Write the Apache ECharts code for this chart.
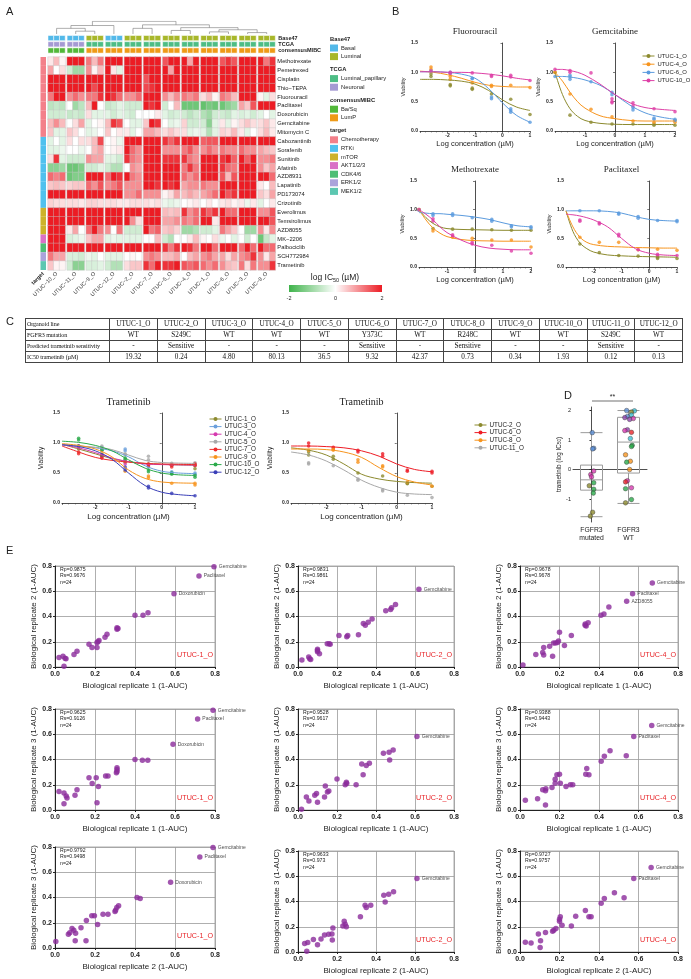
<!DOCTYPE html>
<html>
<head>
<meta charset="utf-8">
<title>UTUC organoid drug screen</title>
<script src="https://cdn.jsdelivr.net/npm/echarts@6.0.0/dist/echarts.min.js"></script>
<style>
  html, body { margin: 0; padding: 0; background: #fff; }
  #main { position: absolute; left: 0; top: 0; width: 691px; height: 979px; }
  #tbl { position: absolute; left: 25px; top: 318px; width: 658px; table-layout: fixed; border-collapse: collapse;
         font-family: 'Liberation Serif', 'Times New Roman', serif; font-size: 7.2px; color: #111; }
  #tbl td { border: 0.6px solid #444; height: 10px; padding: 0 1px; text-align: center; white-space: nowrap; overflow: hidden; line-height: 10px; }
  #tbl td:first-child { text-align: left; font-size: 6.1px; letter-spacing: -0.1px; }
</style>
</head>
<body>
<div id="main"></div>
<table id="tbl"><colgroup><col style="width:84px"></colgroup><tbody></tbody></table>
<script>
var FONT = 'Liberation Sans, Arial, sans-serif';
var SERIF = 'Liberation Serif, Times New Roman, serif';

// ---------- A: heatmap data ----------
var groups = ['UTUC−10_O','UTUC−11_O','UTUC−9_O','UTUC−12_O','UTUC−2_O','UTUC−7_O','UTUC−5_O','UTUC−4_O','UTUC−1_O','UTUC−6_O','UTUC−3_O','UTUC−8_O'];
var drugs = ['Methotrexate','Pemetrexed','Cisplatin','Thio−TEPA','Fluorouracil','Paclitaxel','Doxorubicin','Gemcitabine','Mitomycin C',
  'Cabozantinib','Sorafenib','Sunitinib','Afatinib','AZD8931','Lapatinib','PD173074','Crizotinib','Everolimus','Temsirolimus','AZD8055',
  'MK−2206','Palbociclib','SCH772984','Trametinib'];
var drugTarget = [0,0,0,0,0,0,0,0,0, 1,1,1,1,1,1,1,1, 2,2,2, 3, 4, 5, 6];
var targetNames = ['Chemotherapy','RTKi','mTOR','AKT1/2/3','CDK4/6','ERK1/2','MEK1/2'];
var targetColors = ['#F3808A','#50C1EE','#CDB22B','#D971C6','#4FBE75','#ABA3DB','#5CC7B1'];
var base47 = [0,0,1,0,1,1,1,1,1,1,1,1];   // 0 Basal, 1 Luminal
var tcga = [1,1,0,0,0,0,0,0,0,0,0,0];     // 0 Luminal_papillary, 1 Neuronal
var mibc = [0,0,1,1,1,1,1,1,1,1,1,1];     // 0 Ba/Sq, 1 LumP
var base47Names = ['Basal','Luminal'], base47Colors = ['#53B9E9','#A8B72A'];
var tcgaNames = ['Luminal_papillary','Neuronal'], tcgaColors = ['#4DBD85','#A59AD3'];
var mibcNames = ['Ba/Sq','LumP'], mibcColors = ['#52B83A','#EE9A17'];

var heat = [
  [0.2,0.6,0.1, 2,2,2, 1.2,0.6,1.2, 2,2,2, 2,2,2, 2,2,2, 1.5,2,2, 2,0.8,2, 2,2,2, 1.5,1.8,1.5, 2,2,2, 2,1.2,1.8],
  [0.8,0,0.3, -0.5,-1,-1, 1,0.1,0.6, 2,0.2,-0.3, 2,2,2, 2,2,2, 2,0.8,2, 2,2,2, 2,2,2, 2,2,2, 2,2,2, 2,2,2],
  [2,2,2, 2,2,2, 2,2,2, 2,2,2, 2,2,2, 1.5,2,2, 2,2,2, 2,2,2, 2,2,2, 2,2,2, 2,2,2, 2,2,2],
  [2,2,2, 2,2,2, 2,1.6,2, 2,2,2, 2,2,2, 1.6,1.8,2, 2,2,2, 2,2,2, 2,2,2, 2,2,2, 2,2,2, 2,2,2],
  [1.2,2,2, 1,1.3,1, 1.2,1.2,1.8, 2,1.8,1.3, 1,1,1.3, 2,2,2, 1,0.6,1, 1.2,1,1.2, 0.3,0.6,0.1, 1.2,1,0.6, 2,2,2, 0.1,-0.3,0.3],
  [-0.7,-0.6,-0.7, 0,-1,-0.7, 0.6,2,0, -0.6,-0.5,-0.3, -0.5,-0.5,-0.5, 2,1.8,2, -0.5,0,0.6, -1.5,-1.5,-1.5, -1.6,-1.4,-1.5, -1.5,-1.2,-1, 0.8,0.5,1.5, 2,2,2],
  [-0.5,-0.5,-0.5, -0.6,-0.5,-0.6, 0.3,-0.3,-0.3, -0.3,-0.5,-0.3, -0.4,-0.5,0, 0,0,0.2, -0.3,-0.5,-0.4, -0.5,-0.7,-0.5, -0.8,-1,-0.5, -0.5,-0.6,-0.3, -0.4,-0.3,-0.5, -0.3,0,-0.3],
  [0.6,1,0.6, 0,0.3,0.8, -0.3,0,0.1, 0.6,1.8,1.5, 0,-0.3,-0.3, 0.5,2,1.8, 0,-0.3,-0.2, 0.4,-0.5,-0.5, -0.5,-1.2,-0.3, 0.2,-0.3,0.1, 0.3,0.5,0.3, 0.3,0.5,0.2],
  [0.5,-0.3,-0.3, 0.5,0.3,0, -0.3,-0.2,0, 0.5,0,0.2, 0.2,-0.3,0, 0.8,0.8,0.6, 0.3,0.5,0.3, 0.3,-0.3,-0.2, -0.3,-0.8,-0.3, 0.4,0.3,0.6, 0.2,-0.3,0, 0.3,0.6,0.2],
  [-0.3,0,-0.3, 0.3,0,0.3, 0.3,0.6,1.6, 0,0.1,-0.2, 2,2,2, 2,2,2, 1.8,1.4,1.8, 2,2,2, 1.4,1.5,1.5, 2,2,2, 2,2,2, 2,2,2],
  [-0.3,-0.3,-0.2, 0,0,-0.2, 0,0.6,0.8, 0,0.1,0.2, 2,1.3,1, 2,2,2, 1,1,1, 1.2,1.5,1, 1,1.3,1, 1.2,1,1, 1.3,1,1, 0.8,0.6,0.5],
  [0.3,1.8,-0.3, -0.5,-0.5,-0.5, 1,0.8,0.8, -0.3,-0.3,-0.5, 1.8,1.2,1, 2,2,2, 1.8,1.8,1.8, 1.8,1.2,1, 2,2,2, 1.8,2,1.4, 2,1.4,2, 1,1,1.2],
  [-1.2,-1.2,-1, -1.5,-1.5,-1.3, -0.5,-0.5,-0.3, -0.5,-0.8,-0.8, 0,1,0.8, 2,2,2, 2,2,2, 1.2,1.8,1.2, 2,2,2, 1.8,1.3,1.2, 2,2,2, 1,0.5,0.8],
  [1.3,1.1,1.3, -1.5,-1.3,-1.3, 2,2,2, 1.3,2,1.8, 2,1.2,1, 2,2,2, 2,2,2, 1.3,1,1.3, 2,2,2, 1.5,0.6,1.5, 2,2,2, 2,2,1.3],
  [0.5,0.6,0.5, 0.4,0.5,0.5, 1.3,1,1.5, 1,1.2,1.5, 1,1,1, 2,2,1.8, 2,1.8,2, 0.8,1,1, 1.2,1,1, 2,2,2, 2,2,2, 0.2,0,0.6],
  [2,2,2, 2,2,2, 2,2,2, 2,2,2, 1,1,1.3, 1,1,1, 0.1,0.3,0.8, 0.6,0.8,0.6, 0.8,1,1.3, 2,1.5,1.8, 2,2,2, 0.5,0.3,0.8],
  [0.4,0.3,0.3, 0.3,0.3,0.2, 0.4,0.4,0.3, 0.3,0.3,0.2, 0.2,0.3,0.3, 0.3,0.2,0.3, -0.2,-0.3,-0.2, 0,0.1,0.2, 0,0.2,0, 0.2,0.3,0.1, 0.2,-0.2,0.2, -0.3,0,0.2],
  [2,2,2, 2,2,2, 2,2,2, 2,2,2, 2,2,2, 2,2,2, 0.6,0.5,0.6, 1.8,1,1.3, 1.8,1.4,1.8, 2,1.3,1.3, 2,2,2, 1,1,1.5],
  [2,2,2, 2,2,2, 2,2,2, 2,2,2, 2,1,0.3, 2,2,2, 0.8,0.8,1, 1.2,1,1.3, 2,2,0.2, 2,2,2, 2,2,2, 2,2,1.5],
  [2,2,2, 0.2,0.8,0, 1.3,2,1.2, 1,0,1.2, -0.5,-0.5,-0.5, 2,1.2,1.4, 0.5,0.6,0.4, -1,-1,-0.8, -0.5,-0.5,-0.3, 1.2,0.8,0.5, 0,-1,-1, 1,0.2,1],
  [2,2,2, -0.4,-0.3,-0.2, 0.5,0.8,0.8, -0.3,-0.2,-0.3, -0.3,-0.3,-0.3, 0,0,0.6, -0.5,-0.8,0, 0,0.2,0.6, 0.1,0,0.3, -0.2,0,-0.3, 0,-0.5,0, -1.5,-0.6,-0.3],
  [2,2,2, 2,2,2, 2,2,2, 2,2,2, 2,2,2, 2,2,2, 1.8,1.2,1.8, 2,1.8,1.2, 2,2,1.3, 2,2,2, 1.3,2,1.3, 2,1.3,1.3],
  [1.2,0.8,0.8, -0.4,-0.4,-0.5, -0.2,-0.3,0, -0.3,-0.3,-0.3, 0,0.1,0, 1,1.2,1, 0.6,0.6,0.8, 0,0.6,0.8, 1,1.2,0.8, 0.8,0.3,0.8, 1,1.2,1.8, 1,0.2,0.8],
  [0.5,0.1,0.1, -0.5,-1.2,-1.2, -0.4,-0.4,-0.3, -0.5,-0.8,-0.8, 0.3,0.5,0.5, 1.8,1.3,2, 1.8,1.8,2, 1.5,1.3,1.5, 1.3,1,1.3, 1,0.6,0.5, 1.2,0.3,1.2, 1,1,1.8]
];
// dendrogram links: [xLeft, hLeft, xRight, hRight, hJoin] in group units
var dendro = [
  [1,0, 2,0, 2], [0,0, 1.5,2, 4], [0.75,4, 3,0, 6],
  [4,0, 5,0, 4], [6,0, 7,0, 2.5], [8,0, 9,0, 1.5], [10,0, 11,0, 1],
  [8.5,1.5, 10.5,1, 3], [6.5,2.5, 9.5,3, 4.5], [4.5,4, 8,4.5, 6.5], [1.875,6, 6.25,6.5, 9]
];

// ---------- B: dose response ----------
var bNames = ['UTUC-1_O','UTUC-4_O','UTUC-6_O','UTUC-10_O'];
var bColors = ['#8C8A2E','#F7941D','#5B9BDE','#DE3FA6'];
var fluoDoses = [-2.6,-1.9,-1.1,-0.4,0.3,1];
var fluoFitX = [-3,-2.5,-2,-1.5,-1,-0.5,0,0.5,1];
var fluoFit = [
  [0.88,0.88,0.87,0.85,0.8,0.69,0.53,0.41,0.35],
  [1.02,1.0,0.96,0.9,0.83,0.78,0.76,0.75,0.75],
  [1.01,1.01,1.0,0.97,0.9,0.72,0.48,0.27,0.15],
  [1.01,1.01,1.0,1.0,0.99,0.97,0.94,0.9,0.87]
];
var fluoPts = [
  [[0.93,0.97],[0.77,0.79],[0.73,0.71],[0.63],[0.54],[0.28]],
  [[1.05,1.09],[0.88,0.93],[0.82],[0.76,0.78],[0.78],[0.74]],
  [[1.02],[0.98,1.0],[0.89,0.9],[0.55,0.58],[0.35,0.32,0.38],[0.15]],
  [[1.02],[1.0,0.98],[0.99],[0.95,0.93],[0.92,0.95],[0.86]]
];
var gemDoses = [-2,-1.5,-0.8,-0.1,0.6,1.3,2];
var gemFitX = [-2,-1.75,-1.5,-1.25,-1,-0.5,0,0.5,1,1.5,2];
var gemFit = [
  [1.0,0.62,0.38,0.25,0.18,0.13,0.115,0.11,0.11,0.11,0.11],
  [1.0,0.85,0.66,0.5,0.39,0.26,0.21,0.18,0.17,0.17,0.17],
  [0.93,0.93,0.92,0.9,0.87,0.78,0.62,0.44,0.31,0.24,0.2],
  [1.05,1.05,1.03,1.0,0.95,0.8,0.62,0.48,0.4,0.37,0.35]
];
var gemPts = [
  [[1.0],[0.27],[0.15],[0.12],[0.12],[0.12,0.1],[0.1]],
  [[1.0],[0.63],[0.37],[0.24],[0.17],[0.15],[0.15,0.18]],
  [[0.93],[0.92,0.95,0.88],[0.84],[0.62,0.66],[0.36,0.4],[0.2,0.22],[0.2,0.18]],
  [[1.05],[1.03,1.0],[0.99],[0.5,0.55,0.48],[0.48,0.43],[0.38],[0.33]]
];
var mtxDoses = [-2,-1.5,-0.8,-0.1,0.6,1.3,2];
var mtxFitX = [-2,-1.75,-1.5,-1.25,-1,-0.5,0,0.5,1,1.5,2];
var mtxFit = [
  [1.0,0.86,0.76,0.7,0.67,0.655,0.65,0.645,0.64,0.64,0.64],
  [1.0,0.82,0.68,0.59,0.53,0.48,0.46,0.455,0.45,0.45,0.45],
  [0.95,0.94,0.93,0.93,0.92,0.9,0.87,0.83,0.77,0.72,0.7],
  [1.0,0.92,0.82,0.7,0.6,0.47,0.38,0.33,0.31,0.3,0.3]
];
var mtxPts = [
  [[1.0],[0.67],[0.66],[0.66],[0.65],[0.64],[0.64]],
  [[1.0],[0.63],[0.52],[0.5],[0.47],[0.47],[0.35]],
  [[0.99],[0.93,0.9],[0.9,0.93],[0.86],[0.8,0.83],[0.72,0.7],[0.7,0.68]],
  [[1.0],[0.8,0.84],[0.56,0.54],[0.4,0.43],[0.38],[0.28],[0.24]]
];
var ptxDoses = [-2.5,-1.8,-1.1,-0.4,0.3,1];
var ptxFitX = [-3,-2.75,-2.5,-2.25,-2,-1.5,-1,-0.5,0,0.5,1];
var ptxFit = [
  [0.98,0.62,0.42,0.32,0.26,0.21,0.195,0.185,0.18,0.175,0.17],
  [0.98,0.7,0.52,0.43,0.39,0.36,0.35,0.34,0.335,0.33,0.33],
  [0.98,0.98,0.98,0.98,0.98,0.97,0.94,0.88,0.83,0.81,0.8],
  [0.92,0.91,0.89,0.86,0.82,0.7,0.5,0.32,0.24,0.21,0.2]
];
var ptxPts = [
  [[0.4],[0.25],[0.2],[0.19],[0.17,0.15],[0.15]],
  [[0.52],[0.43],[0.43],[0.3],[0.31],[0.29]],
  [[0.98],[0.98],[0.94,0.92],[0.88,0.85],[0.81],[0.81,0.79]],
  [[0.82,0.8],[0.77,0.75],[0.57,0.54],[0.3],[0.22,0.2],[0.2]]
];

// ---------- C: table + trametinib ----------
var tblLines = ['UTUC-1_O','UTUC-2_O','UTUC-3_O','UTUC-4_O','UTUC-5_O','UTUC-6_O','UTUC-7_O','UTUC-8_O','UTUC-9_O','UTUC-10_O','UTUC-11_O','UTUC-12_O'];
var tblMut = ['WT','S249C','WT','WT','WT','Y373C','WT','R248C','WT','WT','S249C','WT'];
var tblPred = ['-','Sensitive','-','-','-','Sensitive','-','Sensitive','-','-','Sensitive','-'];
var tblIC50 = ['19.32','0.24','4.80','80.13','36.5','9.32','42.37','0.73','0.34','1.93','0.12','0.13'];

var tramDoses = [-2.5,-1.8,-1.1,-0.4,0.3,1];
var tramFitX = [-3,-2.5,-2,-1.5,-1,-0.5,0,0.5,1];
var tramLNames = ['UTUC-1_O','UTUC-3_O','UTUC-4_O','UTUC-5_O','UTUC-7_O','UTUC-9_O','UTUC-10_O','UTUC-12_O'];
var tramLColors = ['#8C8A2E','#6CA0DC','#D63AAF','#A8A8A8','#EE2C2C','#F7941D','#2BAA4A','#3A3FB8'];
var tramLFit = [
  [0.98,0.9,0.82,0.74,0.69,0.66,0.645,0.635,0.63],
  [0.97,0.95,0.92,0.87,0.77,0.62,0.53,0.5,0.49],
  [0.97,0.92,0.84,0.75,0.69,0.65,0.64,0.635,0.63],
  [0.97,0.95,0.93,0.89,0.8,0.71,0.675,0.665,0.66],
  [0.95,0.85,0.76,0.71,0.68,0.66,0.65,0.645,0.64],
  [0.99,0.96,0.9,0.77,0.55,0.41,0.35,0.335,0.33],
  [1.03,1.01,0.96,0.87,0.72,0.58,0.5,0.47,0.46],
  [0.97,0.94,0.87,0.73,0.5,0.29,0.18,0.14,0.12]
];
var tramLPts = [
  [[0.9],[0.8],[0.68],[0.65],[0.63],[0.57,0.62]],
  [[0.95],[0.88,0.93],[0.87,0.9],[0.6,0.64],[0.5,0.52],[0.48,0.5]],
  [[0.92],[0.75,0.78],[0.65],[0.64],[0.63],[0.63]],
  [[0.95],[0.9,0.95],[0.8,0.82],[0.78,0.72],[0.66],[0.67,0.65]],
  [[0.82,0.85],[0.75,0.78],[0.7],[0.65,0.62],[0.6,0.63],[0.63,0.65]],
  [[0.95],[0.82],[0.53],[0.42,0.45],[0.33],[0.33,0.3]],
  [[1.05,1.08],[0.9,0.88],[0.75,0.73],[0.52,0.55],[0.48,0.5],[0.43,0.46]],
  [[0.95],[0.8],[0.55,0.6],[0.25,0.28],[0.16],[0.12]]
];
var tramRNames = ['UTUC-2_O','UTUC-6_O','UTUC-8_O','UTUC-11_O'];
var tramRColors = ['#8C8A2E','#EE1C25','#F7941D','#A8A8A8'];
var tramRFit = [
  [0.92,0.88,0.8,0.65,0.48,0.4,0.36,0.34,0.33],
  [0.95,0.95,0.94,0.92,0.87,0.78,0.65,0.56,0.52],
  [0.9,0.9,0.89,0.85,0.76,0.59,0.44,0.35,0.3],
  [0.85,0.8,0.7,0.55,0.38,0.26,0.18,0.15,0.14]
];
var tramRPts = [
  [[0.8,0.85],[0.73,0.78],[0.5],[0.45],[0.33,0.32],[0.28]],
  [[0.95,1.0],[0.93,0.9],[0.85,0.88],[0.78,0.82],[0.55,0.53],[0.5,0.53]],
  [[0.88],[0.9,0.88],[0.72,0.68],[0.6,0.62],[0.35],[0.28]],
  [[0.65,0.67],[0.62],[0.4,0.38],[0.2,0.22],[0.13],[0.09]]
];

// ---------- D: box plot ----------
var dCats = ['FGFR3\nmutated','FGFR3\nWT'];
var dBox = [[-1.6,-0.7,-0.35,0.15,1.25],[-1.15,-0.12,0.93,1.77,2.0]];
var dColors = ['#8C8A2E','#5B8FD6','#D63AAF','#2BAA4A','#F7941D','#3EC1D3','#E8262A','#8E44AD'];
var mutVals = [1.25,0.72,0.7,-0.05,-0.17,-0.25,-0.45,-0.55,-0.67,-0.8,-1.45,-1.58];
var mutCol = [1,1,1,2,2,2,3,0,3,3,0,0];
var mutJit = [0.02,0.06,0.03,0.06,-0.02,0,0.06,-0.06,0.06,0.05,0.03,-0.03];
var wtVals = [2.0,1.99,1.95,1.85,1.8,1.76,1.73,1.7,1.35,1.32,1.26,1.05,0.82,0.78,0.5,0.28,0.25,0.0,-0.38,-0.42,-0.62,-0.65,-1.02,-1.13];
var wtCol = [1,5,0,5,1,7,2,7,7,2,6,5,3,3,4,4,3,4,2,6,2,3,3,0];
var wtJit = [-0.05,0.16,0.08,0.08,-0.03,-0.1,0.13,0.03,-0.03,-0.1,0.08,0.05,0.1,0.08,-0.08,0.05,-0.05,0.03,-0.03,-0.08,0.08,-0.08,0.08,-0.08];

// ---------- E: replicate scatter ----------
var e1Pts = [[0.02,0.075],[0.04,0.085],[0.05,0.07],[0.055,0.065],[0.045,0.005],[0.095,0.1],[0.11,0.125],[0.17,0.18],[0.185,0.155],[0.21,0.155],[0.21,0.195],[0.22,0.21],[0.215,0.2],[0.25,0.235],[0.26,0.26],[0.31,0.3],[0.315,0.305],[0.31,0.31],[0.4,0.41],[0.44,0.41],[0.465,0.43]];
var e1Lab = [['Doxorubicin',0.595,0.58],['Paclitaxel',0.72,0.72],['Gemcitabine',0.795,0.795]];
var e2Pts = [[0.02,0.055],[0.055,0.08],[0.06,0.065],[0.065,0.06],[0.1,0.14],[0.1,0.12],[0.11,0.105],[0.1,0.13],[0.15,0.185],[0.16,0.185],[0.165,0.18],[0.21,0.25],[0.25,0.24],[0.255,0.25],[0.31,0.255],[0.335,0.345],[0.345,0.33],[0.36,0.355],[0.38,0.38],[0.45,0.445],[0.475,0.455],[0.48,0.47],[0.5,0.495]];
var e2Lab = [['Gemcitabine',0.62,0.615]];
var e3Pts = [[0.015,0.015],[0.08,0.1],[0.115,0.115],[0.12,0.155],[0.12,0.095],[0.15,0.165],[0.17,0.19],[0.18,0.19],[0.165,0.085],[0.19,0.195],[0.195,0.205],[0.2,0.275],[0.225,0.17],[0.26,0.25],[0.33,0.34],[0.335,0.325],[0.33,0.33],[0.345,0.35],[0.41,0.41],[0.425,0.42],[0.45,0.475]];
var e3Lab = [['AZD8055',0.54,0.52],['Paclitaxel',0.57,0.58],['Gemcitabine',0.67,0.665]];
var e4Pts = [[0.02,0.147],[0.045,0.135],[0.056,0.11],[0.06,0.095],[0.045,0.05],[0.1,0.116],[0.11,0.16],[0.17,0.255],[0.186,0.21],[0.206,0.255],[0.217,0.186],[0.21,0.057],[0.253,0.27],[0.265,0.27],[0.307,0.295],[0.31,0.32],[0.31,0.335],[0.31,0.305],[0.4,0.4],[0.437,0.395],[0.464,0.395]];
var e4Lab = [['Doxorubicin',0.59,0.52],['Paclitaxel',0.713,0.72],['Gemcitabine',0.79,0.79]];
var e5Pts = [[0.018,0.005],[0.043,0.103],[0.056,0.072],[0.086,0.116],[0.095,0.13],[0.1,0.062],[0.136,0.103],[0.14,0.19],[0.151,0.143],[0.158,0.15],[0.2,0.245],[0.242,0.2],[0.248,0.22],[0.25,0.21],[0.298,0.2],[0.327,0.365],[0.334,0.28],[0.35,0.353],[0.366,0.37],[0.438,0.45],[0.467,0.457],[0.47,0.397],[0.488,0.475]];
var e5Lab = [['Gemcitabine',0.61,0.583]];
var e6Pts = [[0.027,0.077],[0.089,0.09],[0.129,0.152],[0.131,0.168],[0.129,0.039],[0.115,0.16],[0.162,0.178],[0.178,0.243],[0.178,0.212],[0.187,0.28],[0.2,0.283],[0.204,0.212],[0.233,0.186],[0.255,0.2],[0.267,0.2],[0.338,0.328],[0.333,0.283],[0.349,0.28],[0.411,0.387],[0.427,0.425],[0.456,0.47],[0.538,0.43]];
var e6Lab = [['Paclitaxel',0.576,0.583],['Gemcitabine',0.667,0.67]];
var e7Pts = [[0.004,0.052],[0.067,0.108],[0.074,0.12],[0.085,0.155],[0.094,0.14],[0.103,0.116],[0.101,0.057],[0.13,0.16],[0.157,0.217],[0.155,0.057],[0.184,0.255],[0.197,0.255],[0.213,0.186],[0.24,0.268],[0.265,0.268],[0.303,0.3],[0.309,0.32],[0.318,0.335],[0.3,0.29],[0.41,0.4],[0.426,0.392]];
var e7Lab = [['Doxorubicin',0.578,0.52],['Paclitaxel',0.724,0.72],['Gemcitabine',0.79,0.797]];
var e8Pts = [[0.034,0.067],[0.05,0.075],[0.045,0.005],[0.079,0.1],[0.1,0.057],[0.118,0.103],[0.136,0.134],[0.174,0.142],[0.176,0.095],[0.179,0.19],[0.157,0.14],[0.23,0.206],[0.237,0.243],[0.242,0.22],[0.248,0.2],[0.32,0.28],[0.344,0.37],[0.35,0.353],[0.373,0.37],[0.44,0.45],[0.447,0.397],[0.465,0.457],[0.49,0.478]];
var e8Lab = [['Gemcitabine',0.61,0.583]];
var e9Pts = [[0.027,0.077],[0.056,0.072],[0.093,0.142],[0.104,0.09],[0.102,0.036],[0.129,0.155],[0.165,0.165],[0.171,0.173],[0.182,0.186],[0.2,0.243],[0.204,0.28],[0.2,0.26],[0.213,0.212],[0.26,0.206],[0.282,0.283],[0.331,0.328],[0.349,0.28],[0.36,0.28],[0.411,0.387],[0.427,0.423],[0.478,0.47],[0.527,0.43]];
var e9Lab = [['Paclitaxel',0.576,0.583],['Gemcitabine',0.664,0.67]];
var eStats = [['0.9875','0.9676'],['0.9831','0.9861'],['0.9678','0.9678'],
              ['0.9625','0.9126'],['0.9528','0.9617'],['0.9388','0.9443'],
              ['0.9792','0.9498'],['0.9633','0.973'],['0.9727','0.9757']];
var eOrgs = ['UTUC-1_O','UTUC-2_O','UTUC-4_O'];
var eXNames = ['Biological replicate 1 (1-AUC)','Biological replicate 1 (1-AUC)','Biological replicate 2 (1-AUC)'];
var eYNames = ['Biological replicate 2 (1-AUC)','Biological replicate 3 (1-AUC)','Biological replicate 3 (1-AUC)'];

// ================= build =================
var grids = [], xAxes = [], yAxes = [], series = [], legends = [], graphics = [];

function addGrid(g, x, y) {
  g.outerBoundsMode = 'none';
  grids.push(g);
  x.gridIndex = grids.length - 1;
  y.gridIndex = grids.length - 1;
  xAxes.push(x); yAxes.push(y);
  return { x: xAxes.length - 1, y: yAxes.length - 1, g: grids.length - 1 };
}
function txt(x, y, s, o) {
  o = o || {};
  graphics.push({ type: 'text', x: x, y: y, silent: true, z: 100, style: Object.assign({
    text: s, fontFamily: FONT, fontSize: 6, fill: '#222', align: 'left', verticalAlign: 'middle'
  }, o) });
}
function cellRender(colors, pad) {
  return function (params, api) {
    var c = api.coord([api.value(0), api.value(1)]);
    var s = api.size([1, 1]);
    return { type: 'rect',
      shape: { x: c[0] - s[0] / 2, y: c[1] - s[1] / 2 + pad, width: s[0], height: s[1] - 2 * pad },
      style: { fill: colors[api.value(2)], stroke: pad > 0 ? '#fff' : null, lineWidth: 0.5 } };
  };
}
var hidden = { show: false };

// ---- A
txt(6, 12, 'A', { fontSize: 11 });
var heatSeries = [];
var annColors = base47Colors.concat(tcgaColors, mibcColors);
var GL = 48, GSTEP = 19.1, GW = 17.2;
groups.forEach(function (gName, g) {
  var left = GL + g * GSTEP;
  var ax = addGrid({ left: left, top: 57, width: GW, height: 213 },
    { type: 'category', data: ['', gName, ''], axisLine: hidden, axisTick: hidden, splitLine: hidden,
      axisLabel: { interval: 0, rotate: 45, fontSize: 5.5, margin: 3, color: '#333', fontFamily: FONT } },
    { type: 'category', data: drugs, inverse: true, position: 'right', axisLine: hidden, axisTick: hidden, splitLine: hidden,
      axisLabel: { show: g === groups.length - 1, interval: 0, fontSize: 5.8, margin: 2, color: '#222', fontFamily: FONT } });
  var d = [];
  for (var r = 0; r < drugs.length; r++) {
    for (var k = 0; k < 3; k++) d.push([k, r, heat[r][g * 3 + k]]);
  }
  heatSeries.push(series.length);
  series.push({ type: 'heatmap', xAxisIndex: ax.x, yAxisIndex: ax.y, data: d, silent: true,
    itemStyle: { borderColor: '#c4c4c4', borderWidth: 0.4 }, emphasis: { disabled: true } });

  var an = addGrid({ left: left, top: 35, width: GW, height: 18.6 },
    { type: 'category', data: ['a', 'b', 'c'], show: false },
    { type: 'category', data: ['Base47', 'TCGA', 'consensusMIBC'], inverse: true, position: 'right',
      axisLine: hidden, axisTick: hidden, splitLine: hidden,
      axisLabel: { show: g === groups.length - 1, interval: 0, fontSize: 5.5, fontWeight: 'bold', margin: 3, color: '#222', fontFamily: FONT } });
  var ad = [];
  for (var k2 = 0; k2 < 3; k2++) {
    ad.push([k2, 0, base47[g]], [k2, 1, 2 + tcga[g]], [k2, 2, 4 + mibc[g]]);
  }
  series.push({ type: 'custom', xAxisIndex: an.x, yAxisIndex: an.y, data: ad, silent: true, renderItem: cellRender(annColors, 0.5) });
});
// target column
var tg = addGrid({ left: 40.5, top: 57, width: 5.5, height: 213 },
  { type: 'category', data: ['target'], axisLine: hidden, axisTick: hidden,
    axisLabel: { interval: 0, rotate: 45, fontSize: 5.5, fontWeight: 'bold', margin: 3, color: '#222', fontFamily: FONT } },
  { type: 'category', data: drugs, inverse: true, show: false });
series.push({ type: 'custom', xAxisIndex: tg.x, yAxisIndex: tg.y, silent: true,
  data: drugTarget.map(function (t, r) { return [0, r, t]; }), renderItem: cellRender(targetColors, 0) });
// dendrogram
var dg = addGrid({ left: GL, top: 21, width: 12 * GSTEP, height: 13 },
  { type: 'value', min: -0.45, max: 11.55, show: false },
  { type: 'value', min: 0, max: 9.2, show: false });
series.push({ type: 'lines', coordinateSystem: 'cartesian2d', xAxisIndex: dg.x, yAxisIndex: dg.y, polyline: true, silent: true,
  lineStyle: { color: '#777', width: 0.6, opacity: 1 },
  data: dendro.map(function (l) { return { coords: [[l[0], l[1]], [l[0], l[4]], [l[2], l[4]], [l[2], l[3]]] }; }) });
// annotation legend
var legSections = [['Base47', base47Names, base47Colors], ['TCGA', tcgaNames, tcgaColors],
                   ['consensusMIBC', mibcNames, mibcColors], ['target', targetNames, targetColors]];
var ly = 39;
legSections.forEach(function (sec) {
  txt(330, ly, sec[0], { fontSize: 5.8, fontWeight: 'bold' });
  ly += 9;
  sec[1].forEach(function (n, i) {
    graphics.push({ type: 'rect', silent: true, shape: { x: 330, y: ly - 3.5, width: 8, height: 7 }, style: { fill: sec[2][i] } });
    txt(341, ly, n, { fontSize: 5.8 });
    ly += 8.6;
  });
  ly += 4.4;
});
// colour bar
txt(335, 278, 'log IC{s|50} (µM)', { fontSize: 8.5, align: 'center', rich: { s: { fontSize: 5.5, verticalAlign: 'bottom', padding: [4, 0, 0, 0] } } });
graphics.push({ type: 'rect', silent: true, shape: { x: 289, y: 285, width: 93, height: 7 },
  style: { fill: new echarts.graphic.LinearGradient(0, 0, 1, 0, [
    { offset: 0, color: '#3EB34A' }, { offset: 0.5, color: '#ffffff' }, { offset: 1, color: '#EC1C24' }]) } });
[['-2', 289], ['0', 335.5], ['2', 382]].forEach(function (t) { txt(t[1], 298, t[0], { fontSize: 5.5, align: 'center' }); });

// ---- B / C dose response
function doseChart(o) {
  var ax = addGrid({ left: o.left, top: o.top, width: o.width, height: o.height },
    { type: 'value', min: o.min, max: o.max, interval: 1,
      name: 'Log concentration (µM)', nameLocation: 'middle', nameGap: o.xGap,
      nameTextStyle: { fontSize: o.xFont, color: '#222', fontFamily: FONT },
      axisLine: { lineStyle: { color: '#222', width: 0.8 } },
      axisTick: { length: 2, lineStyle: { color: '#222', width: 0.6 } },
      minorTick: { show: true, splitNumber: 5, length: 1.5, lineStyle: { color: '#444', width: 0.5 } },
      axisLabel: { fontSize: 5, fontWeight: 'bold', margin: 2, color: '#222', fontFamily: FONT,
        formatter: function (v) { return v === o.min ? '' : String(v); } },
      splitLine: hidden },
    { type: 'value', min: 0, max: 1.5, interval: 0.5,
      name: 'Viability', nameLocation: 'middle', nameGap: o.yGap,
      nameTextStyle: { fontSize: o.yFont, color: '#222', fontFamily: FONT },
      axisLine: { show: true, lineStyle: { color: '#222', width: 0.8 } },
      axisTick: { show: true, length: 2, lineStyle: { color: '#222', width: 0.6 } },
      axisLabel: { fontSize: 5, fontWeight: 'bold', margin: 2, color: '#222', fontFamily: FONT,
        formatter: function (v) { return v.toFixed(1); } },
      splitLine: hidden });
  o.names.forEach(function (n, i) {
    series.push({ type: 'line', name: n, xAxisIndex: ax.x, yAxisIndex: ax.y, silent: true,
      data: o.fitX.map(function (x, j) { return [x, o.fit[i][j]]; }),
      smooth: 0.35, symbol: 'circle', showSymbol: false, symbolSize: 4,
      lineStyle: { width: 1, color: o.colors[i] }, itemStyle: { color: o.colors[i] } });
    var d = [];
    o.doses.forEach(function (x, j) { o.pts[i][j].forEach(function (v) { d.push([x, v]); }); });
    series.push({ type: 'scatter', name: n, xAxisIndex: ax.x, yAxisIndex: ax.y, silent: true, data: d,
      symbolSize: 3.6, itemStyle: { color: o.colors[i] } });
  });
  txt(o.left + o.width / 2, o.top - 11, o.title, { fontFamily: SERIF, fontSize: o.tFont, align: 'center' });
}
function legendFor(left, top, names, colors, gap, fs) {
  legends.push({ left: left, top: top, orient: 'vertical', itemWidth: 12, itemHeight: 5, itemGap: gap,
    selectedMode: false, textStyle: { fontSize: fs, color: '#222', fontFamily: FONT, padding: [0, 0, 0, -2] },
    data: names.map(function (n, i) {
      return { name: n, itemStyle: { color: colors[i] }, lineStyle: { color: colors[i], width: 1 } };
    }) });
}
txt(392, 12, 'B', { fontSize: 11 });
var bBase = { names: bNames, colors: bColors, xGap: 9, yGap: 14, xFont: 7.5, yFont: 5.5, tFont: 9 };
doseChart(Object.assign({ left: 420, top: 43, width: 110, height: 88, min: -3, max: 1, title: 'Fluorouracil',
  doses: fluoDoses, fitX: fluoFitX, fit: fluoFit, pts: fluoPts }, bBase));
doseChart(Object.assign({ left: 555, top: 43, width: 120, height: 88, min: -2, max: 2, title: 'Gemcitabine',
  doses: gemDoses, fitX: gemFitX, fit: gemFit, pts: gemPts }, bBase));
doseChart(Object.assign({ left: 419, top: 181, width: 112, height: 86, min: -2, max: 2, title: 'Methotrexate',
  doses: mtxDoses, fitX: mtxFitX, fit: mtxFit, pts: mtxPts }, bBase));
doseChart(Object.assign({ left: 566, top: 181, width: 111, height: 86, min: -3, max: 1, title: 'Paclitaxel',
  doses: ptxDoses, fitX: ptxFitX, fit: ptxFit, pts: ptxPts }, bBase));
legendFor(637, 48, bNames, bColors, 2.2, 5.9);

txt(6, 322, 'C', { fontSize: 11 });
var cBase = { xGap: 10, yGap: 17, xFont: 8, yFont: 6.5, tFont: 10, min: -3, max: 1, doses: tramDoses, fitX: tramFitX, title: 'Trametinib' };
doseChart(Object.assign({ left: 62, top: 413, width: 133, height: 90,
  names: tramLNames, colors: tramLColors, fit: tramLFit, pts: tramLPts }, cBase));
doseChart(Object.assign({ left: 291, top: 413, width: 141, height: 90,
  names: tramRNames, colors: tramRColors, fit: tramRFit, pts: tramRPts }, cBase));
legendFor(204, 411, tramLNames, tramLColors, 1.6, 6.3);
legendFor(469, 417, tramRNames, tramRColors, 1.6, 6.3);

// ---- D
txt(564, 396, 'D', { fontSize: 11 });
var dAx = addGrid({ left: 573, top: 407, width: 74, height: 115 },
  { type: 'category', data: dCats, axisLine: { lineStyle: { color: '#222', width: 0.8 } }, axisTick: { show: false },
    axisLabel: { fontSize: 6.8, lineHeight: 8, margin: 4, color: '#222', fontFamily: FONT } },
  { type: 'value', min: -1.78, max: 2.12,
    name: 'trametinib (log IC{s|50})', nameLocation: 'middle', nameGap: 10,
    nameTextStyle: { fontSize: 6.3, color: '#222', fontFamily: FONT, rich: { s: { fontSize: 4.5, verticalAlign: 'bottom' } } },
    axisLine: { show: true, lineStyle: { color: '#222', width: 0.8 } },
    axisTick: { show: true, length: 2, customValues: [-1, 0, 1, 2] },
    axisLabel: { fontSize: 5.5, margin: 2, color: '#222', fontFamily: FONT, customValues: [-1, 0, 1, 2],
      formatter: function (v) { return Math.abs(v - Math.round(v)) < 1e-6 ? String(Math.round(v)) : ''; } },
    splitLine: hidden });
xAxes.push({ type: 'value', gridIndex: dAx.g, min: -0.5, max: 1.5, show: false });
var dJx = xAxes.length - 1;
series.push({ type: 'boxplot', xAxisIndex: dAx.x, yAxisIndex: dAx.y, data: dBox, silent: true, boxWidth: [22, 22],
  itemStyle: { color: 'rgba(0,0,0,0)', borderColor: '#9a9a9a', borderWidth: 1 } });
var dPts = [];
mutVals.forEach(function (v, i) { dPts.push({ value: [mutJit[i], v], itemStyle: { color: dColors[mutCol[i]] } }); });
wtVals.forEach(function (v, i) { dPts.push({ value: [1 + wtJit[i], v], itemStyle: { color: dColors[wtCol[i]] } }); });
series.push({ type: 'scatter', xAxisIndex: dJx, yAxisIndex: dAx.y, data: dPts, silent: true, symbolSize: 4.6,
  itemStyle: { borderColor: '#333', borderWidth: 0.5 } });
graphics.push({ type: 'line', silent: true, shape: { x1: 592, y1: 401, x2: 633, y2: 401 }, style: { stroke: '#333', lineWidth: 0.7 } });
txt(612.5, 397, '**', { fontSize: 7, align: 'center' });

// ---- E
txt(6, 551, 'E', { fontSize: 11 });
var ePts = [e1Pts, e2Pts, e3Pts, e4Pts, e5Pts, e6Pts, e7Pts, e8Pts, e9Pts];
var eLab = [e1Lab, e2Lab, e3Lab, e4Lab, e5Lab, e6Lab, e7Lab, e8Lab, e9Lab];
var eLefts = [55, 298, 520], eWidths = [160, 156, 158];
var eTops = [[566, 566, 566], [709, 709, 709], [847, 851, 851]];
var eH = 101;
ePts.forEach(function (pts, i) {
  var row = Math.floor(i / 3), col = i % 3;
  var left = eLefts[col], top = eTops[row][col], w = eWidths[col];
  var axisCommon = {
    type: 'value', min: 0, max: 0.8, interval: 0.2, nameLocation: 'middle',
    nameTextStyle: { fontSize: 8, color: '#222', fontFamily: FONT },
    axisLine: { onZero: false, lineStyle: { color: '#222', width: 1 } },
    axisTick: { length: 2, lineStyle: { color: '#222' } },
    axisLabel: { fontSize: 7, fontWeight: 'bold', color: '#222', fontFamily: FONT, formatter: function (v) { return v.toFixed(1); } },
    splitLine: { show: true, lineStyle: { color: '#9a9a9a', width: 0.8 } }
  };
  var ax = addGrid({ left: left, top: top, width: w, height: eH, show: true, borderColor: '#9a9a9a', borderWidth: 0.8 },
    Object.assign({}, axisCommon, { name: eXNames[row], nameGap: 15, axisLabel: Object.assign({}, axisCommon.axisLabel, { margin: 4 }) }),
    Object.assign({}, axisCommon, { name: eYNames[row], nameGap: 17, axisLabel: Object.assign({}, axisCommon.axisLabel, { margin: 3 }) }));
  series.push({ type: 'scatter', xAxisIndex: ax.x, yAxisIndex: ax.y, data: pts, silent: true, symbolSize: 5.5,
    itemStyle: { color: '#8B2C9B' } });
  series.push({ type: 'scatter', xAxisIndex: ax.x, yAxisIndex: ax.y, silent: true, symbolSize: 5.5,
    itemStyle: { color: '#8B2C9B' },
    label: { show: true, position: 'right', distance: 2, formatter: '{b}', fontSize: 5, color: '#222', fontFamily: FONT },
    data: eLab[i].map(function (l) { return { name: l[0], value: [l[1], l[2]] }; }) });
  txt(left + 5, top + 10, 'Rp=' + eStats[i][0] + '\nRs=' + eStats[i][1] + '\nn=24', { fontSize: 5.2, lineHeight: 6.6 });
  txt(left + w - 2, top + eH - 12, eOrgs[col], { fontSize: 7.2, fill: '#E8262A', align: 'right' });
});

var option = {
  animation: false,
  backgroundColor: '#fff',
  textStyle: { fontFamily: FONT },
  grid: grids, xAxis: xAxes, yAxis: yAxes,
  visualMap: { show: false, type: 'continuous', min: -2, max: 2, dimension: 2, seriesIndex: heatSeries,
    inRange: { color: ['#3EB34A', '#ffffff', '#EC1C24'] } },
  legend: legends,
  graphic: graphics,
  series: series
};
var chart = echarts.init(document.getElementById('main'), null, { renderer: 'canvas' });
chart.setOption(option);

// table for panel C
var tb = document.querySelector('#tbl tbody');
[['Organoid line', tblLines], ['FGFR3 mutation', tblMut], ['Predicted trametinib sensitivity', tblPred], ['IC50 trametinib (µM)', tblIC50]]
  .forEach(function (row) {
    var tr = document.createElement('tr');
    [row[0]].concat(row[1]).forEach(function (c) {
      var td = document.createElement('td');
      td.textContent = c;
      tr.appendChild(td);
    });
    tb.appendChild(tr);
  });
</script>
</body>
</html>
